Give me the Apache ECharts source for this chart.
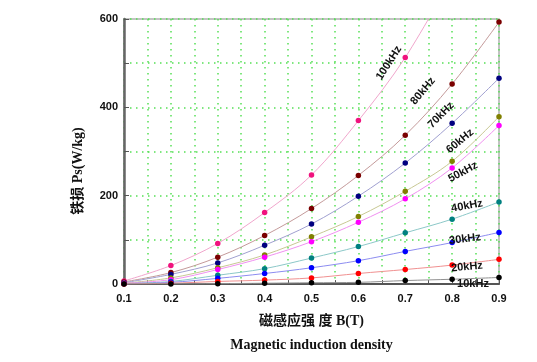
<!DOCTYPE html>
<html><head><meta charset="utf-8">
<script src="https://cdn.jsdelivr.net/npm/echarts@6/dist/echarts.min.js"></script>
<style>html,body{margin:0;padding:0;background:#fff}#c{width:537px;height:362px}</style>
</head><body><div id="c"></div>
<script>
const B = [0.1, 0.2, 0.3, 0.4, 0.5, 0.6, 0.7, 0.8];
const B9 = [0.1, 0.2, 0.3, 0.4, 0.5, 0.6, 0.7, 0.8, 0.9];
const seriesNames = ['100kHz','80kHz','70kHz','60kHz','50kHz','40kHz','30kHz','20kHz','10kHz'];
const p100 = [7, 42, 92, 162, 247, 370, 513, 695];
const p80 = [5, 26, 61, 110, 171, 246, 337, 453, 593];
const p70 = [3, 22, 48, 88, 136, 199, 274, 364, 466];
const p60 = [2, 14, 37, 66, 107, 153, 210, 278, 379];
const p50 = [2, 10, 33, 61, 96, 140, 193, 263, 359];
const p40 = [1, 6, 20, 35, 59, 85, 116, 147, 186];
const p30 = [1, 4, 13, 24, 37, 53, 74, 94, 117];
const p20 = [0.5, 2, 6, 9, 14, 24, 33, 43, 56];
const p10 = [0.2, 0.5, 1, 2, 3, 4, 8, 11, 15];
const xTicks = [0.1, 0.2, 0.3, 0.4, 0.5, 0.6, 0.7, 0.8, 0.9];
const yTicks = [0, 200, 400, 600];

const values = [p100, p80, p70, p60, p50, p40, p30, p20, p10];
const markerColors = ['#f0127e','#7a0000','#000080','#808000','#ff00ff','#008080','#0000ff','#ff0000','#000000'];
const lineColors = ['#f0a6cc','#c49a9a','#a0a0d0','#c8c894','#f090f0','#8cc8c8','#8c8cf0','#f09090','#909090'];

const series = values.map((v, i) => ({
  name: seriesNames[i],
  type: 'line',
  smooth: 0.35,
  symbol: 'circle',
  symbolSize: 5.5,
  clip: true,
  data: v.map((y, k) => [(v.length === 8 ? B : B9)[k], y]),
  lineStyle: { color: lineColors[i], width: 1 },
  itemStyle: { color: markerColors[i] },
  z: 3
}));

const labelPos = [
  [389, 63, 57], [423, 91, 50], [441, 115, 45], [460, 141, 40],
  [463, 172, 28], [467, 206, 10], [465, 239, 7], [467, 267, 5], [473, 284, 0]
];

const chart = echarts.init(document.getElementById('c'), null, { renderer: 'canvas' });
const gridLine = { show: true, lineStyle: { color: '#55e055', type: [1.5, 4.5], width: 1.5 } };
const serifFont = '"Liberation Serif","Noto Sans CJK SC",serif';
chart.setOption({
  animation: false,
  backgroundColor: '#fff',
  grid: { left: 124, right: 38, top: 19, bottom: 69, show: true, borderColor: '#b0b0b0', borderWidth: 1.5, backgroundColor: 'transparent' },
  xAxis: {
    type: 'value', min: 0.1, max: 0.9, interval: 0.1,
    name: '磁感应强 度 B(T)\nMagnetic induction density',
    nameLocation: 'middle', nameGap: 21,
    nameTextStyle: { fontFamily: serifFont, fontWeight: 'bold', fontSize: 14, lineHeight: 24, color: '#111', verticalAlign: 'top' },
    axisLine: { lineStyle: { color: '#555', width: 2 } },
    axisTick: { show: true, inside: true, length: 4, lineStyle: { color: '#555' } },
    minorTick: { show: true, splitNumber: 2, length: 4, lineStyle: { color: '#555' } },
    splitLine: gridLine,
    minorSplitLine: gridLine,
    axisLabel: { color: '#111', fontWeight: 'bold', fontSize: 11, fontFamily: 'Liberation Sans, Arial, sans-serif', margin: 9, formatter: v => xTicks.includes(Math.round(v*10)/10) ? v.toFixed(1) : '' }
  },
  yAxis: {
    type: 'value', min: 0, max: 600, interval: 200,
    axisLine: { show: true, lineStyle: { color: '#666', width: 2.5 } },
    axisTick: { show: true, inside: true, length: 5, lineStyle: { color: '#555' } },
    minorTick: { show: true, splitNumber: 2, length: 5, lineStyle: { color: '#555' } },
    splitLine: gridLine,
    minorSplitLine: gridLine,
    axisLabel: { color: '#111', fontWeight: 'bold', fontSize: 11, fontFamily: 'Liberation Sans, Arial, sans-serif', margin: 6, formatter: v => yTicks.includes(v) ? String(v) : '' }
  },
  graphic: [{
    type: 'text', x: 78, y: 171, rotation: Math.PI / 2, z: 10,
    style: { text: '铁损 Ps(W/kg)', fill: '#111', font: 'bold 14px ' + serifFont, textAlign: 'center', textVerticalAlign: 'middle' }
  }].concat(labelPos.map((p, i) => ({
    type: 'text', x: p[0], y: p[1], rotation: p[2] * Math.PI / 180, z: 10,
    style: { text: seriesNames[i], fill: '#111', font: 'bold 11px "Liberation Sans", Arial, sans-serif', textAlign: 'center', textVerticalAlign: 'middle' }
  }))),
  series
});
</script></body></html>
